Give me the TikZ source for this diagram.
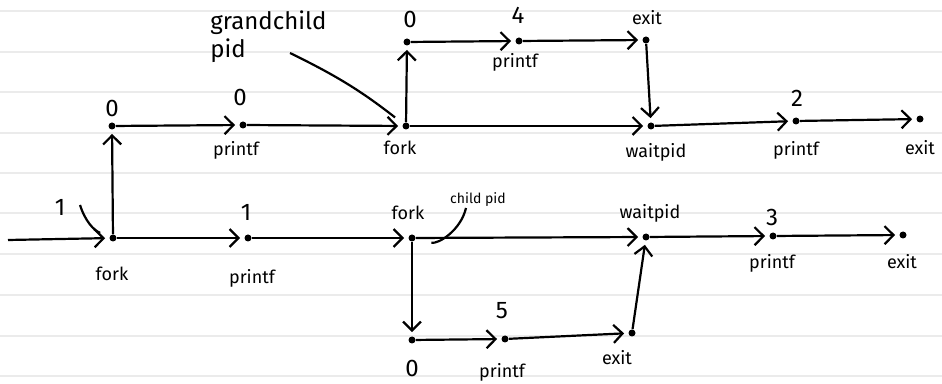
\documentclass[tikz,border=0pt]{standalone}
\usepackage{fontspec}
\setmainfont{Fira Sans}
\usetikzlibrary{arrows.meta}

\tikzset{
  dot/.style = {circle, fill, inner sep=0pt, minimum size=3.5pt},
  txt/.style = {font=\small, inner sep=1pt},
  num/.style = {font=\large, inner sep=1pt},
  flow/.style = {-{Straight Barb[length=4.5pt,width=9pt]}, line width=1.1pt, shorten >=2pt},
  ptr/.style = {line width=1.1pt, shorten >=5pt},
}

\begin{document}
\begin{tikzpicture}[x=0.5pt, y=-0.5pt]
    \useasboundingbox (0,0) rectangle (942,384);
    % notebook lines
    \foreach \y in {11,52,92,133,173,213,254,295,336,376}
      \draw[black!8, line width=1pt] (0,\y) -- (942,\y);

    % parent
    \coordinate (start) at (8,240);
    \node[dot] (fk1) at (113,238) {};
    \node[txt] (fk1l) at (112,274) {fork};
    \node[num] (one) at (60,207) {1};
    \coordinate (onep) at (80,205);
    \node[dot] (pr1) at (248,238) {};
    \node[num] (pr1n) at (246,212) {1};
    \node[txt] (pr1l) at (252,278) {printf};
    \node[dot] (fk2) at (412,238) {};
    \node[txt] (fk2l) at (408,213) {fork};
    \node[font=\scriptsize, inner sep=1pt] (cpid) at (478,200) {child pid};
    \coordinate (cpidp) at (466,208);
    \node[dot] (wt2) at (646,237) {};
    \node[txt] (wt2l) at (650,213) {waitpid};
    \node[dot] (pr3) at (773,236) {};
    \node[num] (pr3n) at (772,217) {3};
    \node[txt] (pr3l) at (772,263) {printf};
    \node[dot] (ex3) at (903,235) {};
    \node[txt] (ex3l) at (902,262) {exit};

    % child
    \node[dot] (zr1) at (112,126) {};
    \node[num] (zr1n) at (112,109) {0};
    \node[dot] (pr0) at (243,125) {};
    \node[num] (pr0n) at (240,97) {0};
    \node[txt] (pr0l) at (236,150) {printf};
    \node[dot] (fk3) at (406,126) {};
    \node[txt] (fk3l) at (400,148) {fork};
    \node[font=\large, align=left, anchor=north west, inner sep=0pt] (gc) at (210,10) {grandchild\\pid};
    \coordinate (gcp) at (290,53);
    \node[dot] (wt1) at (651,126) {};
    \node[txt] (wt1l) at (656,152) {waitpid};
    \node[dot] (pr2) at (796,121) {};
    \node[num] (pr2n) at (797,98) {2};
    \node[txt] (pr2l) at (796,150) {printf};
    \node[dot] (ex2) at (920,119) {};
    \node[txt] (ex2l) at (920,148) {exit};

    % grandchild
    \node[dot] (zr2) at (407,42) {};
    \node[num] (zr2n) at (410,20) {0};
    \node[dot] (pr4) at (519,41) {};
    \node[num] (pr4n) at (518,15) {4};
    \node[txt] (pr4l) at (515,62) {printf};
    \node[dot] (ex4) at (646,40) {};
    \node[txt] (ex4l) at (647,18) {exit};

    % second child
    \node[dot] (zr3) at (412,340) {};
    \node[num] (zr3n) at (412,368) {0};
    \node[dot] (pr5) at (505,339) {};
    \node[num] (pr5n) at (502,311) {5};
    \node[txt] (pr5l) at (502,372) {printf};
    \node[dot] (ex5) at (632,333) {};
    \node[txt] (ex5l) at (617,358) {exit};

    % pointers
    \draw[ptr] (onep) to[bend right=25] (fk1);
    \draw[ptr, shorten >=8pt] (cpidp) to[bend left=45] (fk2);
    \draw[ptr] (gcp) to[bend left=6] (fk3);

    \draw[flow] (start) -- (fk1);
    \draw[flow] (fk1) -- (zr1);
    \draw[flow] (zr1) -- (pr0);
    \draw[flow] (pr0) -- (fk3);
    \draw[flow] (fk3) -- (wt1);
    \draw[flow] (wt1) -- (pr2);
    \draw[flow] (pr2) -- (ex2);
    \draw[flow] (fk3) -- (zr2);
    \draw[flow] (zr2) -- (pr4);
    \draw[flow] (pr4) -- (ex4);
    \draw[flow] (ex4) -- (wt1);
    \draw[flow] (fk1) -- (pr1);
    \draw[flow] (pr1) -- (fk2);
    \draw[flow] (fk2) -- (wt2);
    \draw[flow] (wt2) -- (pr3);
    \draw[flow] (pr3) -- (ex3);
    \draw[flow] (fk2) -- (zr3);
    \draw[flow] (zr3) -- (pr5);
    \draw[flow] (pr5) -- (ex5);
    \draw[flow] (ex5) -- (wt2);
\end{tikzpicture}
\end{document}
